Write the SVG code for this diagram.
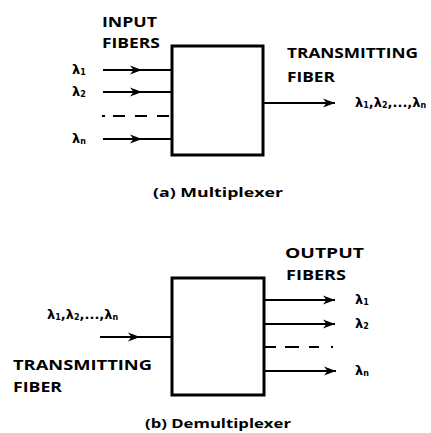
<svg xmlns="http://www.w3.org/2000/svg" width="431" height="433" viewBox="0 0 431 433">
<defs>
<style>
.box{fill:none;stroke:#000;stroke-width:3}
.ln{fill:none;stroke:#000;stroke-width:2}
.t{font-family:"Open Sans","Liberation Sans",sans-serif;font-weight:bold;font-size:14px;fill:#000}
.cap{font-family:"Open Sans","Liberation Sans",sans-serif;font-weight:bold;font-size:13px;fill:#000}
.lam{font-family:"DejaVu Sans","Liberation Sans",sans-serif;font-weight:bold;font-size:13px;fill:#000}
.sub{font-size:8px}
</style>
<marker id="ahe" viewBox="0 0 12 10" refX="12" refY="5" markerWidth="13" markerHeight="10" markerUnits="userSpaceOnUse" orient="auto">
<path d="M0,0.5 L12,5 L0,9.5 L3.5,5 Z" fill="#000"/>
</marker>
</defs>
<rect width="431" height="433" fill="#fff"/>

<g id="mux">
<rect class="box" x="172" y="46" width="91" height="109"/>
</g>
<g id="demux">
<rect class="box" x="172" y="278" width="92" height="117"/>
</g>

<g id="connectors">
<!-- multiplexer inputs -->
<line class="ln" x1="103" y1="70" x2="142" y2="70" marker-end="url(#ahe)"/>
<line class="ln" x1="140" y1="70" x2="172" y2="70"/>
<line class="ln" x1="103" y1="92" x2="142" y2="92" marker-end="url(#ahe)"/>
<line class="ln" x1="140" y1="92" x2="172" y2="92"/>
<line class="ln" x1="102" y1="116" x2="172" y2="116" stroke-dasharray="3,8,12,10,12,10,12"/>
<line class="ln" x1="103" y1="139" x2="142" y2="139" marker-end="url(#ahe)"/>
<line class="ln" x1="140" y1="139" x2="172" y2="139"/>
<!-- multiplexer output -->
<line class="ln" x1="263" y1="103" x2="335" y2="103" marker-end="url(#ahe)"/>
<!-- demultiplexer input -->
<line class="ln" x1="100" y1="337" x2="140" y2="337" marker-end="url(#ahe)"/>
<line class="ln" x1="138" y1="337" x2="172" y2="337"/>
<!-- demultiplexer outputs -->
<line class="ln" x1="264" y1="300" x2="335" y2="300" marker-end="url(#ahe)"/>
<line class="ln" x1="264" y1="324" x2="335" y2="324" marker-end="url(#ahe)"/>
<line class="ln" x1="264" y1="347" x2="335" y2="347" stroke-dasharray="12,9,14,10,10,12,2"/>
<line class="ln" x1="264" y1="371" x2="336" y2="371" marker-end="url(#ahe)"/>
</g>

<g id="labels-a">
<text class="t" x="102" y="27" textLength="55" lengthAdjust="spacingAndGlyphs">INPUT</text>
<text class="t" x="102" y="48" textLength="58" lengthAdjust="spacingAndGlyphs">FIBERS</text>
<text class="lam" x="72" y="74">λ<tspan class="sub" dy="1">1</tspan></text>
<text class="lam" x="72" y="96">λ<tspan class="sub" dy="1">2</tspan></text>
<text class="lam" x="72" y="143">λ<tspan class="sub" dy="1">n</tspan></text>
<text class="t" x="287" y="58" textLength="131" lengthAdjust="spacingAndGlyphs">TRANSMITTING</text>
<text class="t" x="287" y="82" textLength="48" lengthAdjust="spacingAndGlyphs">FIBER</text>
<text class="lam" x="355" y="107" font-size="11">λ<tspan class="sub" dy="1">1</tspan><tspan dy="-1">,λ</tspan><tspan class="sub" dy="1">2</tspan><tspan dy="-1">,...,λ</tspan><tspan class="sub" dy="1">n</tspan></text>
<text class="cap" x="153" y="197" textLength="130" lengthAdjust="spacingAndGlyphs">(a)  Multiplexer</text>
</g>

<g id="labels-b">
<text class="t" x="285" y="258" textLength="79" lengthAdjust="spacingAndGlyphs">OUTPUT</text>
<text class="t" x="286" y="280" textLength="60" lengthAdjust="spacingAndGlyphs">FIBERS</text>
<text class="lam" x="355" y="304">λ<tspan class="sub" dy="1">1</tspan></text>
<text class="lam" x="355" y="328">λ<tspan class="sub" dy="1">2</tspan></text>
<text class="lam" x="355" y="375">λ<tspan class="sub" dy="1">n</tspan></text>
<text class="lam" x="47" y="319" font-size="11">λ<tspan class="sub" dy="1">1</tspan><tspan dy="-1">,λ</tspan><tspan class="sub" dy="1">2</tspan><tspan dy="-1">,...,λ</tspan><tspan class="sub" dy="1">n</tspan></text>
<text class="t" x="13" y="370" textLength="139" lengthAdjust="spacingAndGlyphs">TRANSMITTING</text>
<text class="t" x="13" y="392" textLength="49" lengthAdjust="spacingAndGlyphs">FIBER</text>
<text class="cap" x="145" y="428" textLength="146" lengthAdjust="spacingAndGlyphs">(b) Demultiplexer</text>
</g>
</svg>
